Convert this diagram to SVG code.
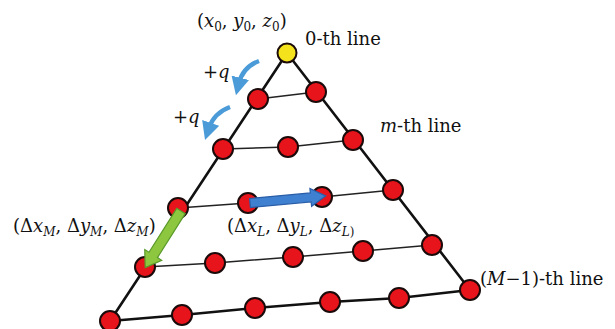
<svg xmlns="http://www.w3.org/2000/svg" width="615" height="329" viewBox="0 0 615 329">
<defs>
<style>
.edge{stroke:#111;stroke-width:2.6;fill:none;stroke-linecap:round}
.row{stroke:#222;stroke-width:1.5;fill:none}
.n{fill:#e8141b;stroke:#1a0a0a;stroke-width:2}
.y{fill:#f4e21c;stroke:#1a0a0a;stroke-width:2}
.t{font-size:18px;fill:#111}
.i{font-style:italic}
.s{font-size:12px}
.q{stroke:#4a9bd8;stroke-width:4.5;fill:none}
</style>
<marker id="qh" markerWidth="4" markerHeight="4" refX="1.2" refY="2" orient="auto" markerUnits="strokeWidth">
<path d="M0,0 L4,2 L0,4 Z" fill="#4a9bd8"/>
</marker>
</defs>
<rect width="615" height="329" fill="#fff"/>
<g id="connectors">
<path class="edge" d="M287,53 L110,321 M287,53 L470,290 M110,321 L182,315 L255,308 L330,302 L399,298 L470,290"/>
<path class="row" d="M258,99 L316,92"/>
<path class="row" d="M223,149 L288,147 L353,140"/>
<path class="row" d="M178,208 L248,203 L322,197 L393,190"/>
<path class="row" d="M145,267 L215,263 L293,257 L363,251 L432,245"/>
</g>
<g id="node-0"><circle class="y" cx="287" cy="53" r="9.5"/></g>
<g id="row1"><circle class="n" cx="258" cy="99" r="10"/><circle class="n" cx="316" cy="92" r="10"/></g>
<g id="row2"><circle class="n" cx="223" cy="149" r="10"/><circle class="n" cx="288" cy="147" r="10"/><circle class="n" cx="353" cy="140" r="10"/></g>
<g id="row3"><circle class="n" cx="178" cy="208" r="10"/><circle class="n" cx="248" cy="203" r="10"/><circle class="n" cx="322" cy="197" r="10"/><circle class="n" cx="393" cy="190" r="10"/></g>
<g id="row4"><circle class="n" cx="145" cy="267" r="10"/><circle class="n" cx="215" cy="263" r="10"/><circle class="n" cx="293" cy="257" r="10"/><circle class="n" cx="363" cy="251" r="10"/><circle class="n" cx="432" cy="245" r="10"/></g>
<g id="row5"><circle class="n" cx="110" cy="321" r="10"/><circle class="n" cx="182" cy="315" r="10"/><circle class="n" cx="255" cy="308" r="10"/><circle class="n" cx="330" cy="302" r="10"/><circle class="n" cx="399" cy="298" r="10"/><circle class="n" cx="470" cy="290" r="10"/></g>
<g id="arrows">
<path transform="translate(250,203) rotate(-5.3)" d="M0,-4.5 L61,-4.5 L61,-9 L76,0 L61,9 L61,4.5 L0,4.5 Z" fill="#3f80d0" stroke="#2a5ea8" stroke-width="1.2"/>
<path transform="translate(181,211) rotate(122.3)" d="M0,-5 L52,-5 L52,-10 L67,0 L52,10 L52,5 L0,5 Z" fill="#8dc63f" stroke="#5a9a2a" stroke-width="1.2"/>
<path class="q" d="M259,61 Q243,67 239,83" marker-end="url(#qh)"/>
<path class="q" d="M230,107 Q214,113 209,128" marker-end="url(#qh)"/>
</g>
<g id="labels" font-family="'DejaVu Serif', serif">
<text class="t" x="197" y="27">(<tspan class="i">x</tspan><tspan class="s" dy="4">0</tspan><tspan dy="-4">, </tspan><tspan class="i">y</tspan><tspan class="s" dy="4">0</tspan><tspan dy="-4">, </tspan><tspan class="i">z</tspan><tspan class="s" dy="4">0</tspan><tspan dy="-4">)</tspan></text>
<text class="t" x="305" y="45">0-th line</text>
<text class="t" x="203" y="78">+<tspan class="i">q</tspan></text>
<text class="t" x="173" y="123">+<tspan class="i">q</tspan></text>
<text class="t" x="380" y="132"><tspan class="i">m</tspan>-th line</text>
<text class="t" x="480" y="285">(<tspan class="i">M</tspan>−1)-th line</text>
<text class="t" x="13" y="232">(Δ<tspan class="i">x</tspan><tspan class="s i" dy="4">M</tspan><tspan dy="-4">, Δ</tspan><tspan class="i">y</tspan><tspan class="s i" dy="4">M</tspan><tspan dy="-4">, Δ</tspan><tspan class="i">z</tspan><tspan class="s i" dy="4">M</tspan><tspan dy="-4">)</tspan></text>
<text class="t" x="227" y="232">(Δ<tspan class="i">x</tspan><tspan class="s i" dy="4">L</tspan><tspan dy="-4">, Δ</tspan><tspan class="i">y</tspan><tspan class="s i" dy="4">L</tspan><tspan dy="-4">, Δ</tspan><tspan class="i">z</tspan><tspan class="s" dy="4"><tspan class="i">L</tspan>)</tspan></text>
</g>
</svg>
